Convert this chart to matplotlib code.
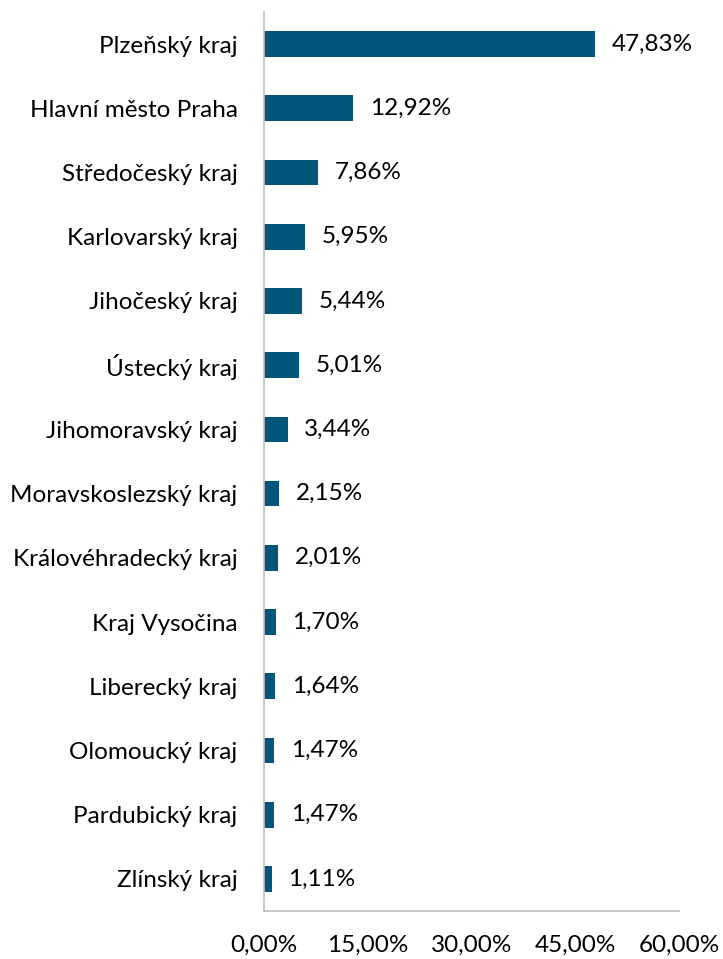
import matplotlib.pyplot as plt
from matplotlib.ticker import FuncFormatter

regions = ['Plzeňský kraj', 'Hlavní město Praha', 'Středočeský kraj', 'Karlovarský kraj',
           'Jihočeský kraj', 'Ústecký kraj', 'Jihomoravský kraj', 'Moravskoslezský kraj',
           'Královéhradecký kraj', 'Kraj Vysočina', 'Liberecký kraj', 'Olomoucký kraj',
           'Pardubický kraj', 'Zlínský kraj']
shares = [47.83, 12.92, 7.86, 5.95, 5.44, 5.01, 3.44, 2.15, 2.01, 1.70, 1.64, 1.47, 1.47, 1.11]
x_ticks = [0, 15, 30, 45, 60]

plt.rcParams['font.family'] = ['Lato', 'DejaVu Sans']

fig = plt.figure(figsize=(7.23, 9.59), dpi=100)
ax = fig.add_axes([264 / 723, 48 / 959, 415 / 723, 899 / 959])

pos = list(range(len(regions)))
bars = ax.barh(pos, shares, height=0.4, color='#02567a')

for rect, v in zip(bars, shares):
    ax.text(rect.get_width() + 2.4, rect.get_y() + rect.get_height() / 2,
            '{:.2f}%'.format(v).replace('.', ','),
            va='center', ha='left', fontsize=17.5, color='black')

ax.set_ylim(len(regions) - 0.5, -0.5)
ax.set_xlim(0, 60)
ax.set_yticks(pos)
ax.set_yticklabels(regions, fontsize=17.5)
ax.set_xticks(x_ticks)
ax.xaxis.set_major_formatter(FuncFormatter(lambda v, p: '{:.2f}%'.format(v).replace('.', ',')))
ax.tick_params(axis='x', length=0, pad=17, labelsize=17.5)
ax.tick_params(axis='y', length=0, pad=19)

for s in ['top', 'right']:
    ax.spines[s].set_visible(False)
for s in ['left', 'bottom']:
    ax.spines[s].set_color('#bfbfbf')
    ax.spines[s].set_linewidth(1.2)

fig.savefig('out.png', dpi=100)
